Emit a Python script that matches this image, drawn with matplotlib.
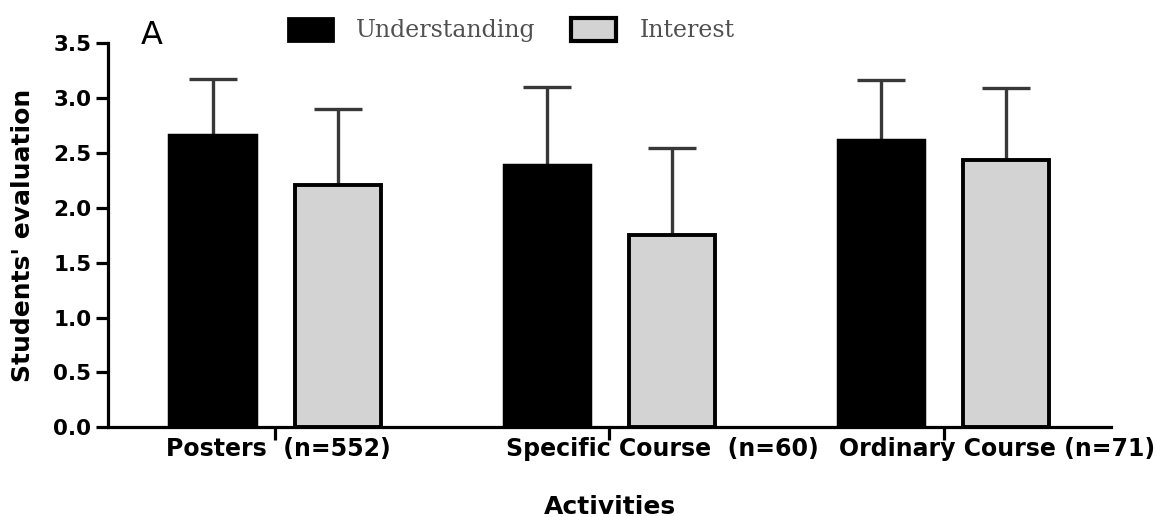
import numpy as np
import matplotlib
matplotlib.use('Agg')
import matplotlib.pyplot as plt
from matplotlib.patches import Patch

# Values
activities = ['Posters  (n=552)', 'Specific Course  (n=60)', 'Ordinary Course (n=71)']
understanding = [2.66, 2.39, 2.62]
understanding_err = [0.51, 0.71, 0.54]
interest = [2.21, 1.75, 2.43]
interest_err = [0.69, 0.79, 0.66]
yticks = [0.0, 0.5, 1.0, 1.5, 2.0, 2.5, 3.0, 3.5]

plt.rcParams['font.family'] = ['DejaVu Sans']

fig = plt.figure(figsize=(11.57, 5.17), dpi=100)
ax = fig.add_axes([0.0933, 0.1735, 0.8669, 0.7433])

x = np.arange(len(activities))
w = 0.258
off = 0.187

ax.bar(x - off, understanding, w, color='black', edgecolor='black', linewidth=2.5, zorder=3)
ax.bar(x + off, interest, w, color='#d3d3d3', edgecolor='black', linewidth=2.8, zorder=3)

# upper error bars only
for xs, ys, es in [(x - off, understanding, understanding_err), (x + off, interest, interest_err)]:
    _, caps, _ = ax.errorbar(xs, ys, yerr=[np.zeros(3), es], fmt='none', ecolor='#383838',
                             elinewidth=2.4, capsize=17, capthick=2.4, zorder=2)
    caps[0].set_visible(False)

ax.set_xlim(-0.5, 2.5)
ax.set_ylim(0, 3.5)
ax.set_yticks(yticks)
ax.set_yticklabels([f'{t:.1f}' for t in yticks], fontsize=15.5, fontweight='bold')
ax.set_xticks(x)
ax.set_xticklabels([''] * 3)

# labels sit a bit to the right of the ticks in the original
label_shift = [0.01, 0.158, 0.16]
for i, lab in enumerate(activities):
    ax.text(i + label_shift[i], -0.026, lab, ha='center', va='top',
            fontsize=17, fontweight='bold', transform=ax.get_xaxis_transform())

for s in ['top', 'right']:
    ax.spines[s].set_visible(False)
for s in ['left', 'bottom']:
    ax.spines[s].set_linewidth(2.3)
ax.tick_params(axis='both', direction='out', length=9, width=2.3)
ax.tick_params(axis='y', pad=3)

ax.set_xlabel('Activities', fontsize=18, fontweight='bold')
ax.xaxis.set_label_coords(0.5, -0.176)
ax.set_ylabel("Students' evaluation", fontsize=18, fontweight='bold')
ax.yaxis.set_label_coords(-0.073, 0.5)

fig.text(0.122, 0.914, 'A', fontsize=23, ha='left', va='baseline')

handles = [Patch(facecolor='black', edgecolor='black', linewidth=2),
           Patch(facecolor='#d3d3d3', edgecolor='black', linewidth=3)]
leg = fig.legend(handles, ['Understanding', 'Interest'], ncol=2, frameon=False,
                 loc='center', bbox_to_anchor=(0.442, 0.942),
                 prop={'family': 'DejaVu Serif', 'size': 17},
                 handlelength=1.9, handleheight=1.15, columnspacing=1.5, handletextpad=1.0)
for t in leg.get_texts():
    t.set_color('#505050')

fig.savefig('out.png', dpi=100)
